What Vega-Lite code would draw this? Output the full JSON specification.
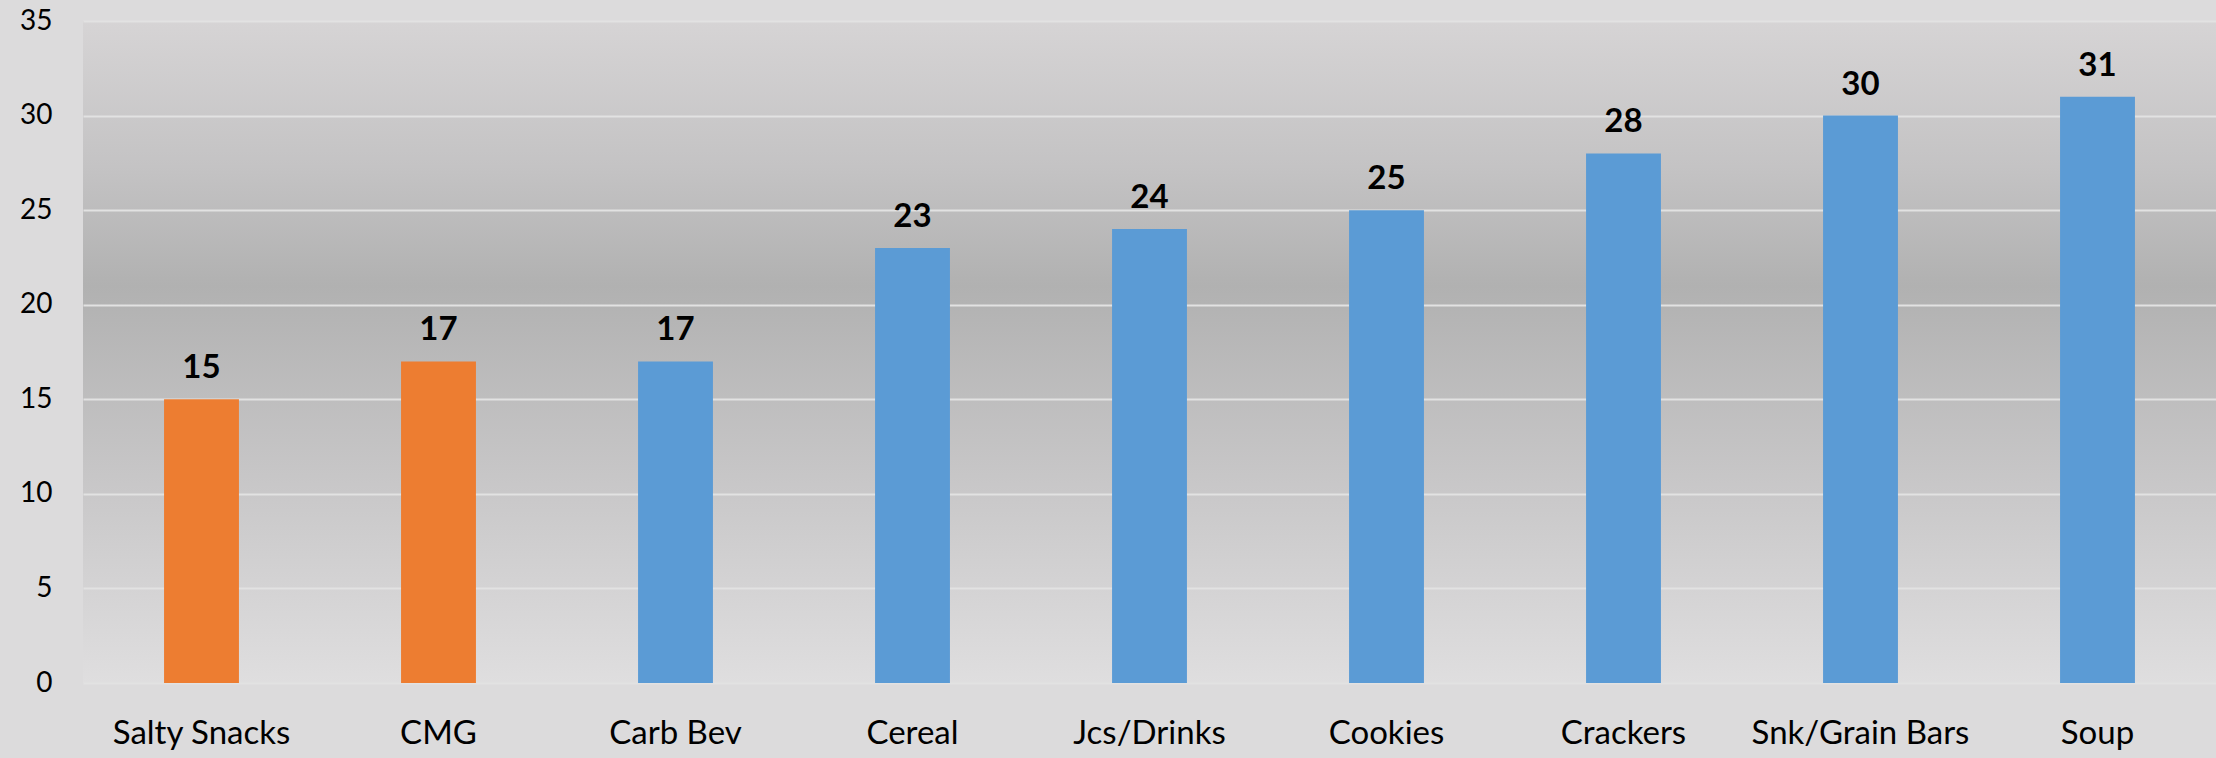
{
  "$schema": "https://vega.github.io/schema/vega-lite/v6.json",
  "width": 2133,
  "height": 662,
  "autosize": {"type": "none"},
  "padding": {"left": 83, "top": 21, "right": 0, "bottom": 75},
  "background": "#dcdbdc",
  "config": {
    "view": {
      "stroke": null,
      "fill": {
        "gradient": "linear",
        "x1": 0, "y1": 0, "x2": 0, "y2": 1,
        "stops": [
          {"offset": 0, "color": "#d6d4d5"},
          {"offset": 0.22, "color": "#c4c3c4"},
          {"offset": 0.4, "color": "#b1b1b1"},
          {"offset": 0.7, "color": "#c8c7c8"},
          {"offset": 1, "color": "#dfdedf"}
        ]
      }
    },
    "font": "Lato"
  },
  "data": {
    "values": [
      {"category": "Salty Snacks", "value": 15, "group": "highlight"},
      {"category": "CMG", "value": 17, "group": "highlight"},
      {"category": "Carb Bev", "value": 17, "group": "other"},
      {"category": "Cereal", "value": 23, "group": "other"},
      {"category": "Jcs/Drinks", "value": 24, "group": "other"},
      {"category": "Cookies", "value": 25, "group": "other"},
      {"category": "Crackers", "value": 28, "group": "other"},
      {"category": "Snk/Grain Bars", "value": 30, "group": "other"},
      {"category": "Soup", "value": 31, "group": "other"}
    ]
  },
  "encoding": {
    "x": {
      "field": "category",
      "type": "nominal",
      "sort": null,
      "scale": {"paddingInner": 0.684, "paddingOuter": 0.342},
      "axis": {
        "title": null,
        "labelAngle": 0,
        "labelFont": "Lato",
        "labelFontSize": 33,
        "labelColor": "#000000",
        "labelBaseline": "alphabetic",
        "labelPadding": 60,
        "labelLimit": 0,
        "ticks": false,
        "domain": false,
        "grid": false
      }
    },
    "y": {
      "field": "value",
      "type": "quantitative",
      "scale": {"domain": [0, 35], "nice": false},
      "axis": {
        "title": null,
        "values": [0, 5, 10, 15, 20, 25, 30, 35],
        "labelFont": "Lato",
        "labelFontSize": 28,
        "labelColor": "#000000",
        "labelPadding": 31,
        "ticks": false,
        "domain": false,
        "grid": true,
        "gridColor": "#e2e2e2",
        "gridWidth": 2
      }
    }
  },
  "layer": [
    {
      "mark": {"type": "bar"},
      "encoding": {
        "color": {
          "field": "group",
          "type": "nominal",
          "scale": {"domain": ["highlight", "other"], "range": ["#ED7D31", "#5B9BD5"]},
          "legend": null
        }
      }
    },
    {
      "mark": {"type": "text", "baseline": "alphabetic", "dy": -21, "fontSize": 33, "fontWeight": "bold", "font": "Lato", "color": "#000000"},
      "encoding": {"text": {"field": "value", "type": "quantitative"}}
    }
  ]
}
